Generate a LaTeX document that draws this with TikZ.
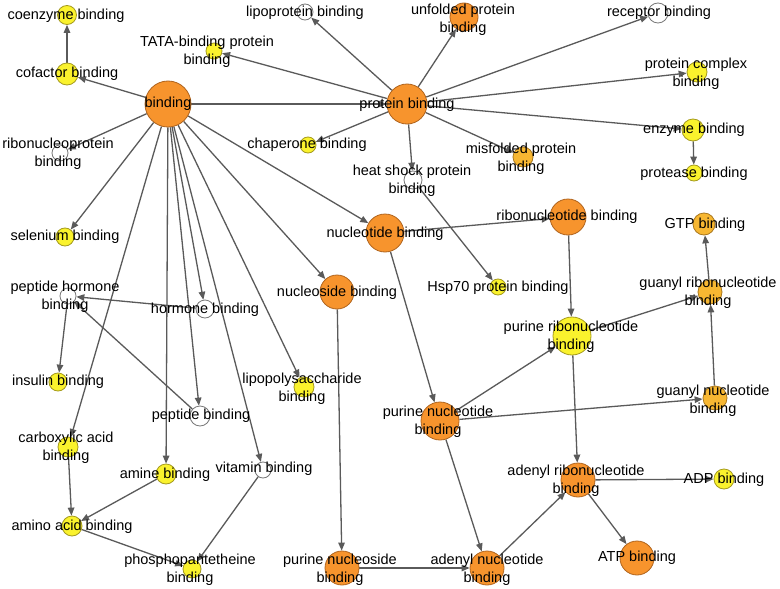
\documentclass[tikz,border=0pt]{standalone}
\usepackage{fontspec}
\setmainfont{Liberation Sans}
\usetikzlibrary{arrows.meta}
\pgfdeclarelayer{bgfill}
\pgfdeclarelayer{background}
\pgfsetlayers{bgfill,background,main}
\definecolor{orfill}{RGB}{247,148,45}
\definecolor{ordraw}{RGB}{176,100,30}
\definecolor{yefill}{RGB}{250,242,45}
\definecolor{yedraw}{RGB}{165,155,30}
\definecolor{mifill}{RGB}{247,183,50}
\definecolor{midraw}{RGB}{170,120,30}
\definecolor{wdraw}{RGB}{120,120,120}
\definecolor{edgec}{RGB}{90,90,90}
\tikzset{
  gonode/.style={circle,inner sep=0pt,minimum size=#1,line width=0.8pt},
  onode/.style={gonode=#1,fill=orfill,draw=ordraw},
  ynode/.style={gonode=#1,fill=yefill,draw=yedraw},
  mnode/.style={gonode=#1,fill=mifill,draw=midraw},
  wnode/.style={gonode=#1,fill=white,draw=wdraw},
  lbl/.style={inner sep=0pt,align=center,text=black,font=\fontsize{14.5}{18}\selectfont},
  goconn/.style={draw=edgec,line width=1.3pt,-{Triangle[length=8pt,width=6.5pt]}}
}
\begin{document}
\begin{tikzpicture}[x=1pt,y=-1pt]
\begin{pgfonlayer}{bgfill}
\fill[white] (0,0) rectangle (780,589);
\end{pgfonlayer}
\useasboundingbox (0,0) rectangle (780,589);
% circles
\node[ynode=19pt] (coenz) at (67,15) {};
\node[ynode=22pt] (cofac) at (67,74) {};
\node[onode=46pt] (bind) at (168,104) {};
\node[ynode=16pt] (tata) at (214,51) {};
\node[wnode=16pt] (ribonp) at (60,153) {};
\node[wnode=16pt] (lipop) at (305,12) {};
\node[onode=28pt] (unfold) at (464,17) {};
\node[wnode=20pt] (recep) at (658,13) {};
\node[onode=40pt] (prot) at (407,104) {};
\node[ynode=20pt] (pcomp) at (697,72) {};
\node[ynode=22pt] (enz) at (693,130) {};
\node[ynode=16pt] (protease) at (694,173) {};
\node[ynode=16pt] (chap) at (308,145) {};
\node[mnode=20pt] (misf) at (523,157) {};
\node[wnode=18pt] (heat) at (413,180) {};
\node[ynode=18pt] (selen) at (65,237) {};
\node[onode=38pt] (nucl) at (385,233) {};
\node[onode=36pt] (ribonucl) at (568,217) {};
\node[mnode=22pt] (gtp) at (704,224) {};
\node[wnode=16pt] (pephorm) at (68,296) {};
\node[wnode=18pt] (horm) at (205,309) {};
\node[onode=34pt] (nucleos) at (337,292) {};
\node[ynode=16pt] (hsp) at (498,287) {};
\node[ynode=38pt] (purribo) at (572,336) {};
\node[mnode=24pt] (guanribo) at (710,292) {};
\node[ynode=18pt] (insulin) at (58,382) {};
\node[ynode=20pt] (lps) at (304,387) {};
\node[wnode=20pt] (pept) at (200,416) {};
\node[ynode=20pt] (carb) at (68,447) {};
\node[onode=38pt] (purnucl) at (440,421) {};
\node[mnode=24pt] (guannucl) at (715,398) {};
\node[ynode=20pt] (amine) at (166,474) {};
\node[wnode=16pt] (vitamin) at (263,470) {};
\node[onode=34pt] (adenribo) at (578,480) {};
\node[ynode=20pt] (adp) at (724,479) {};
\node[ynode=20pt] (amino) at (72,526) {};
\node[ynode=18pt] (phospho) at (192,569) {};
\node[onode=34pt] (purnucleos) at (342,568) {};
\node[onode=34pt] (adennucl) at (487,568) {};
\node[onode=34pt] (atp) at (637,558) {};
% edges
\begin{pgfonlayer}{background}
\draw[goconn] (cofac) -- (coenz);
\draw[goconn] (bind) -- (cofac);
\draw[goconn] (bind) -- (ribonp);
\draw[goconn] (bind) -- (prot);
\draw[goconn] (bind) -- (selen);
\draw[goconn] (bind) -- (horm);
\draw[goconn] (bind) -- (pept);
\draw[goconn] (bind) -- (carb);
\draw[goconn] (bind) -- (amine);
\draw[goconn] (bind) -- (vitamin);
\draw[goconn] (bind) -- (lps);
\draw[goconn] (bind) -- (nucleos);
\draw[goconn] (bind) -- (nucl);
\draw[goconn] (prot) -- (lipop);
\draw[goconn] (prot) -- (tata);
\draw[goconn] (prot) -- (unfold);
\draw[goconn] (prot) -- (recep);
\draw[goconn] (prot) -- (pcomp);
\draw[goconn] (prot) -- (enz);
\draw[goconn] (prot) -- (misf);
\draw[goconn] (prot) -- (chap);
\draw[goconn] (prot) -- (heat);
\draw[goconn] (heat) -- (hsp);
\draw[goconn] (enz) -- (protease);
\draw[goconn] (nucl) -- (ribonucl);
\draw[goconn] (nucl) -- (purnucl);
\draw[goconn] (ribonucl) -- (purribo);
\draw[goconn] (purnucl) -- (purribo);
\draw[goconn] (purnucl) -- (guannucl);
\draw[goconn] (purnucl) -- (adennucl);
\draw[goconn] (purribo) -- (guanribo);
\draw[goconn] (purribo) -- (adenribo);
\draw[goconn] (guannucl) -- (guanribo);
\draw[goconn] (guanribo) -- (gtp);
\draw[goconn] (nucleos) -- (purnucleos);
\draw[goconn] (purnucleos) -- (adennucl);
\draw[goconn] (adennucl) -- (adenribo);
\draw[goconn] (adenribo) -- (adp);
\draw[goconn] (adenribo) -- (atp);
\draw[goconn] (horm) -- (pephorm);
\draw[goconn] (pept) -- (pephorm);
\draw[goconn] (pephorm) -- (insulin);
\draw[goconn] (carb) -- (amino);
\draw[goconn] (amine) -- (amino);
\draw[goconn] (amino) -- (phospho);
\draw[goconn] (vitamin) -- (phospho);
\end{pgfonlayer}
% labels
\node[lbl] (t-coenz) at (66,16) {coenzyme binding};
\node[lbl] (t-cofac) at (67,74) {cofactor binding};
\node[lbl] (t-bind) at (168,104) {binding};
\node[lbl] (t-tata) at (207,52) {TATA-binding protein\\binding};
\node[lbl] (t-ribonp) at (58,154) {ribonucleoprotein\\binding};
\node[lbl] (t-lipop) at (305,13) {lipoprotein binding};
\node[lbl] (t-unfold) at (463,20) {unfolded protein\\binding};
\node[lbl] (t-recep) at (659,13) {receptor binding};
\node[lbl] (t-prot) at (407,105) {protein binding};
\node[lbl] (t-pcomp) at (696,74) {protein complex\\binding};
\node[lbl] (t-enz) at (694,130) {enzyme binding};
\node[lbl] (t-protease) at (694,174) {protease binding};
\node[lbl] (t-chap) at (307,145) {chaperone binding};
\node[lbl] (t-misf) at (521,159) {misfolded protein\\binding};
\node[lbl] (t-heat) at (412,181) {heat shock protein\\binding};
\node[lbl] (t-selen) at (65,237) {selenium binding};
\node[lbl] (t-nucl) at (385,234) {nucleotide binding};
\node[lbl] (t-ribonucl) at (567,217) {ribonucleotide binding};
\node[lbl] (t-gtp) at (705,225) {GTP binding};
\node[lbl] (t-pephorm) at (65,297) {peptide hormone\\binding};
\node[lbl] (t-horm) at (205,310) {hormone binding};
\node[lbl] (t-nucleos) at (337,293) {nucleoside binding};
\node[lbl] (t-hsp) at (498,288) {Hsp70 protein binding};
\node[lbl] (t-purribo) at (571,337) {purine ribonucleotide\\binding};
\node[lbl] (t-guanribo) at (708,293) {guanyl ribonucleotide\\binding};
\node[lbl] (t-insulin) at (58,382) {insulin binding};
\node[lbl] (t-lps) at (302,389) {lipopolysaccharide\\binding};
\node[lbl] (t-pept) at (201,416) {peptide binding};
\node[lbl] (t-carb) at (66,448) {carboxylic acid\\binding};
\node[lbl] (t-purnucl) at (438,422) {purine nucleotide\\binding};
\node[lbl] (t-guannucl) at (713,401) {guanyl nucleotide\\binding};
\node[lbl] (t-amine) at (165,475) {amine binding};
\node[lbl] (t-vitamin) at (264,469) {vitamin binding};
\node[lbl] (t-adenribo) at (576,481) {adenyl ribonucleotide\\binding};
\node[lbl] (t-adp) at (724,480) {ADP binding};
\node[lbl] (t-amino) at (72,527) {amino acid binding};
\node[lbl] (t-phospho) at (190,570) {phosphopantetheine\\binding};
\node[lbl] (t-purnucleos) at (340,570) {purine nucleoside\\binding};
\node[lbl] (t-adennucl) at (487,570) {adenyl nucleotide\\binding};
\node[lbl] (t-atp) at (637,558) {ATP binding};
\end{tikzpicture}
\end{document}
